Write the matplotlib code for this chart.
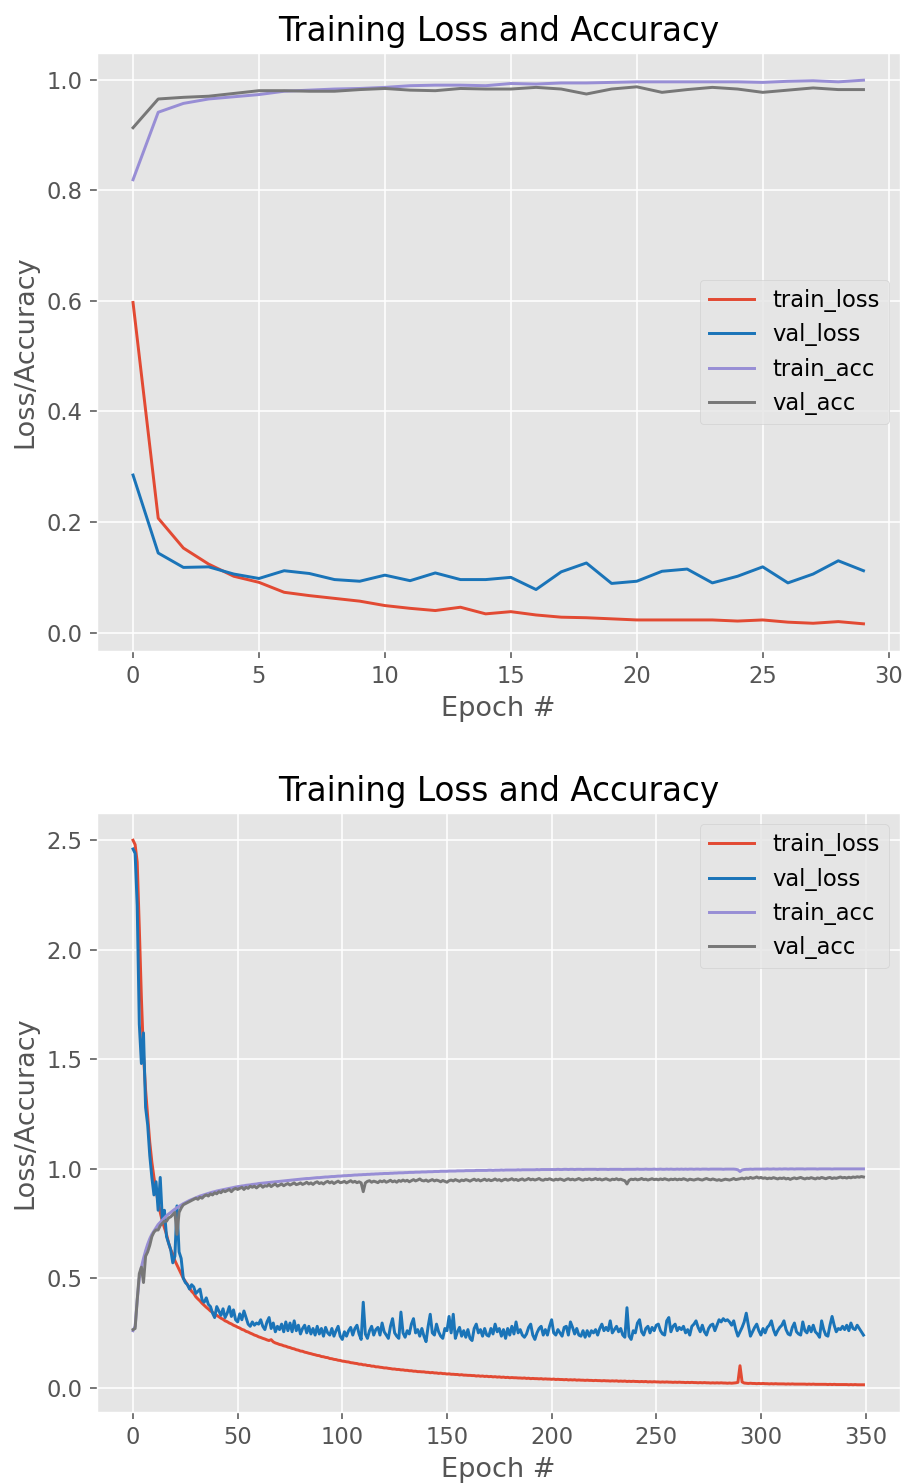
import numpy as np
import matplotlib
matplotlib.use("Agg")
import matplotlib.pyplot as plt

# ---------------- data: run 1 (30 epochs) ----------------
epochs1 = list(range(30))
train_loss1 = [0.597, 0.207, 0.153, 0.124, 0.102, 0.091, 0.073, 0.067, 0.062, 0.057,
               0.049, 0.044, 0.040, 0.046, 0.034, 0.038, 0.032, 0.028, 0.027, 0.025,
               0.023, 0.023, 0.023, 0.023, 0.021, 0.023, 0.019, 0.017, 0.020, 0.016]
val_loss1 = [0.285, 0.144, 0.118, 0.119, 0.106, 0.098, 0.112, 0.107, 0.096, 0.093,
             0.104, 0.094, 0.108, 0.096, 0.096, 0.100, 0.078, 0.110, 0.126, 0.089,
             0.093, 0.111, 0.115, 0.090, 0.102, 0.119, 0.090, 0.106, 0.130, 0.112]
train_acc1 = [0.819, 0.941, 0.957, 0.965, 0.969, 0.973, 0.979, 0.981, 0.983, 0.984,
              0.986, 0.989, 0.990, 0.990, 0.989, 0.993, 0.992, 0.994, 0.994, 0.995,
              0.996, 0.996, 0.996, 0.996, 0.996, 0.995, 0.997, 0.998, 0.996, 0.999]
val_acc1 = [0.913, 0.965, 0.968, 0.970, 0.975, 0.980, 0.980, 0.979, 0.979, 0.982,
            0.984, 0.981, 0.980, 0.984, 0.983, 0.983, 0.986, 0.983, 0.974, 0.983,
            0.987, 0.977, 0.982, 0.986, 0.983, 0.977, 0.981, 0.985, 0.982, 0.982]

# ---------------- data: run 2 (350 epochs) ----------------
epochs2 = list(range(350))
train_loss2 = [
    2.50, 2.48, 2.40, 2.10, 1.78, 1.52, 1.36, 1.24, 1.12, 1.03,
    0.96, 0.90, 0.85, 0.80, 0.76, 0.73, 0.70, 0.66, 0.63, 0.61,
    0.58, 0.56, 0.54, 0.52, 0.50, 0.485, 0.47, 0.455, 0.44, 0.43,
    0.415, 0.405, 0.396, 0.385, 0.376, 0.367, 0.359, 0.350, 0.344, 0.336,
    0.330, 0.324, 0.317, 0.312, 0.305, 0.301, 0.295, 0.291, 0.285, 0.281,
    0.276, 0.272, 0.266, 0.263, 0.257, 0.254, 0.249, 0.245, 0.240, 0.237,
    0.232, 0.229, 0.225, 0.222, 0.218, 0.215, 0.219, 0.209, 0.204, 0.201,
    0.197, 0.195, 0.191, 0.189, 0.185, 0.183, 0.179, 0.177, 0.173, 0.171,
    0.167, 0.166, 0.162, 0.160, 0.157, 0.155, 0.152, 0.150, 0.147, 0.146,
    0.142, 0.141, 0.138, 0.137, 0.133, 0.132, 0.129, 0.128, 0.125, 0.124,
    0.121, 0.120, 0.118, 0.117, 0.114, 0.113, 0.111, 0.110, 0.107, 0.107,
    0.104, 0.104, 0.101, 0.101, 0.098, 0.098, 0.095, 0.095, 0.093, 0.092,
    0.090, 0.090, 0.088, 0.087, 0.085, 0.085, 0.083, 0.083, 0.081, 0.081,
    0.079, 0.079, 0.077, 0.077, 0.075, 0.075, 0.073, 0.073, 0.072, 0.072,
    0.070, 0.070, 0.068, 0.069, 0.067, 0.067, 0.065, 0.066, 0.064, 0.064,
    0.062, 0.063, 0.061, 0.061, 0.060, 0.060, 0.058, 0.059, 0.057, 0.057,
    0.056, 0.056, 0.055, 0.055, 0.053, 0.054, 0.052, 0.053, 0.051, 0.052,
    0.050, 0.051, 0.049, 0.050, 0.048, 0.049, 0.047, 0.048, 0.046, 0.047,
    0.045, 0.046, 0.045, 0.045, 0.044, 0.044, 0.043, 0.044, 0.042, 0.043,
    0.041, 0.042, 0.041, 0.041, 0.040, 0.041, 0.039, 0.040, 0.039, 0.039,
    0.038, 0.039, 0.037, 0.038, 0.037, 0.037, 0.036, 0.037, 0.035, 0.036,
    0.035, 0.036, 0.034, 0.035, 0.034, 0.034, 0.033, 0.034, 0.033, 0.033,
    0.032, 0.033, 0.032, 0.032, 0.031, 0.032, 0.031, 0.031, 0.030, 0.031,
    0.030, 0.031, 0.029, 0.030, 0.029, 0.030, 0.028, 0.029, 0.028, 0.029,
    0.028, 0.028, 0.027, 0.028, 0.027, 0.028, 0.026, 0.027, 0.026, 0.027,
    0.026, 0.026, 0.025, 0.026, 0.025, 0.026, 0.025, 0.025, 0.024, 0.025,
    0.024, 0.025, 0.024, 0.024, 0.023, 0.024, 0.023, 0.024, 0.023, 0.023,
    0.022, 0.023, 0.022, 0.023, 0.022, 0.022, 0.021, 0.022, 0.021, 0.022,
    0.021, 0.022, 0.021, 0.021, 0.020, 0.021, 0.020, 0.021, 0.022, 0.024,
    0.100, 0.026, 0.021, 0.020, 0.019, 0.020, 0.019, 0.019, 0.018, 0.019,
    0.018, 0.019, 0.018, 0.018, 0.017, 0.018, 0.017, 0.018, 0.017, 0.017,
    0.017, 0.017, 0.016, 0.017, 0.016, 0.017, 0.016, 0.016, 0.016, 0.016,
    0.016, 0.016, 0.015, 0.016, 0.015, 0.016, 0.015, 0.015, 0.015, 0.015,
    0.015, 0.015, 0.014, 0.015, 0.014, 0.015, 0.014, 0.014, 0.014, 0.014,
    0.014, 0.014, 0.013, 0.014, 0.013, 0.014, 0.013, 0.013, 0.013, 0.013,
]
val_loss2 = [
    2.46, 2.44, 2.20, 1.66, 1.48, 1.62, 1.28, 1.20, 1.06, 0.96,
    0.88, 0.94, 0.81, 0.96, 0.77, 0.81, 0.69, 0.66, 0.63, 0.57,
    0.60, 0.83, 0.62, 0.59, 0.50, 0.48, 0.47, 0.45, 0.47, 0.46,
    0.43, 0.44, 0.45, 0.40, 0.39, 0.41, 0.38, 0.37, 0.34, 0.32,
    0.37, 0.35, 0.33, 0.36, 0.32, 0.34, 0.37, 0.325, 0.355, 0.31,
    0.30, 0.337, 0.31, 0.35, 0.32, 0.29, 0.28, 0.30, 0.285, 0.295,
    0.29, 0.31, 0.28, 0.265, 0.30, 0.32, 0.27, 0.295, 0.255, 0.28,
    0.265, 0.29, 0.255, 0.30, 0.26, 0.295, 0.255, 0.305, 0.26, 0.285,
    0.245, 0.27, 0.285, 0.25, 0.28, 0.245, 0.27, 0.24, 0.28, 0.245,
    0.27, 0.235, 0.275, 0.25, 0.24, 0.27, 0.235, 0.26, 0.28, 0.235,
    0.22, 0.255, 0.235, 0.26, 0.275, 0.24, 0.27, 0.285, 0.245, 0.22,
    0.39, 0.245, 0.225, 0.26, 0.28, 0.24, 0.265, 0.275, 0.24, 0.295,
    0.255, 0.24, 0.225, 0.28, 0.315, 0.25, 0.235, 0.225, 0.345, 0.25,
    0.23, 0.26, 0.245, 0.29, 0.315, 0.25, 0.265, 0.235, 0.27, 0.235,
    0.21, 0.28, 0.335, 0.25, 0.24, 0.29, 0.255, 0.235, 0.225, 0.27,
    0.26, 0.325, 0.25, 0.335, 0.225, 0.255, 0.275, 0.235, 0.26, 0.23,
    0.265, 0.225, 0.215, 0.27, 0.29, 0.25, 0.265, 0.235, 0.27, 0.24,
    0.235, 0.27, 0.245, 0.29, 0.255, 0.27, 0.235, 0.265, 0.225, 0.27,
    0.24, 0.28, 0.245, 0.30, 0.25, 0.265, 0.24, 0.23, 0.245, 0.275,
    0.29, 0.24, 0.22, 0.25, 0.27, 0.28, 0.24, 0.265, 0.24, 0.28,
    0.31, 0.25, 0.24, 0.265, 0.25, 0.235, 0.275, 0.28, 0.24, 0.30,
    0.275, 0.245, 0.27, 0.24, 0.235, 0.26, 0.23, 0.26, 0.235, 0.26,
    0.25, 0.265, 0.24, 0.27, 0.29, 0.26, 0.275, 0.26, 0.305, 0.25,
    0.265, 0.28, 0.255, 0.27, 0.24, 0.23, 0.365, 0.235, 0.22, 0.26,
    0.25, 0.295, 0.31, 0.255, 0.24, 0.27, 0.28, 0.25, 0.275, 0.26,
    0.285, 0.29, 0.26, 0.245, 0.24, 0.305, 0.32, 0.255, 0.28, 0.29,
    0.26, 0.275, 0.265, 0.28, 0.25, 0.265, 0.24, 0.28, 0.29, 0.305,
    0.275, 0.255, 0.285, 0.255, 0.24, 0.27, 0.285, 0.29, 0.26, 0.285,
    0.31, 0.30, 0.315, 0.305, 0.31, 0.30, 0.285, 0.305, 0.265, 0.235,
    0.255, 0.275, 0.30, 0.34, 0.285, 0.235, 0.255, 0.275, 0.29, 0.26,
    0.24, 0.27, 0.25, 0.275, 0.285, 0.305, 0.265, 0.24, 0.26, 0.275,
    0.285, 0.305, 0.265, 0.245, 0.24, 0.275, 0.295, 0.255, 0.245, 0.24,
    0.30, 0.26, 0.25, 0.28, 0.255, 0.285, 0.255, 0.245, 0.23, 0.305,
    0.265, 0.24, 0.235, 0.285, 0.325, 0.285, 0.255, 0.27, 0.265, 0.28,
    0.265, 0.285, 0.26, 0.295, 0.27, 0.265, 0.285, 0.27, 0.255, 0.24,
]
train_acc2 = [
    0.26, 0.28, 0.40, 0.50, 0.55, 0.59, 0.625, 0.655, 0.68, 0.70,
    0.715, 0.73, 0.745, 0.755, 0.765, 0.775, 0.785, 0.793, 0.80, 0.808,
    0.815, 0.822, 0.828, 0.834, 0.84, 0.845, 0.85, 0.855, 0.859, 0.863,
    0.867, 0.871, 0.875, 0.878, 0.881, 0.884, 0.887, 0.89, 0.893, 0.895,
    0.898, 0.90, 0.902, 0.904, 0.906, 0.908, 0.91, 0.912, 0.914, 0.916,
    0.918, 0.919, 0.921, 0.922, 0.924, 0.925, 0.926, 0.928, 0.929, 0.930,
    0.932, 0.933, 0.934, 0.935, 0.936, 0.937, 0.938, 0.939, 0.940, 0.941,
    0.942, 0.943, 0.944, 0.945, 0.946, 0.947, 0.948, 0.949, 0.950, 0.951,
    0.952, 0.953, 0.954, 0.955, 0.955, 0.956, 0.957, 0.958, 0.959, 0.959,
    0.960, 0.961, 0.962, 0.962, 0.963, 0.964, 0.964, 0.965, 0.966, 0.966,
    0.967, 0.968, 0.968, 0.969, 0.969, 0.970, 0.971, 0.971, 0.972, 0.972,
    0.973, 0.973, 0.974, 0.974, 0.975, 0.975, 0.976, 0.976, 0.977, 0.977,
    0.978, 0.978, 0.978, 0.979, 0.979, 0.980, 0.980, 0.981, 0.981, 0.981,
    0.982, 0.982, 0.983, 0.983, 0.983, 0.984, 0.984, 0.984, 0.985, 0.985,
    0.985, 0.986, 0.986, 0.986, 0.987, 0.987, 0.987, 0.988, 0.988, 0.988,
    0.988, 0.989, 0.989, 0.989, 0.989, 0.990, 0.990, 0.990, 0.990, 0.991,
    0.991, 0.991, 0.991, 0.991, 0.992, 0.992, 0.992, 0.992, 0.992, 0.992,
    0.993, 0.993, 0.992, 0.993, 0.993, 0.993, 0.994, 0.993, 0.994, 0.994,
    0.994, 0.994, 0.994, 0.994, 0.995, 0.994, 0.995, 0.995, 0.995, 0.995,
    0.995, 0.995, 0.995, 0.996, 0.995, 0.996, 0.996, 0.996, 0.996, 0.996,
    0.996, 0.996, 0.996, 0.997, 0.996, 0.996, 0.997, 0.997, 0.996, 0.997,
    0.997, 0.996, 0.997, 0.997, 0.997, 0.996, 0.997, 0.997, 0.997, 0.997,
    0.997, 0.997, 0.996, 0.997, 0.997, 0.997, 0.997, 0.996, 0.997, 0.997,
    0.997, 0.997, 0.997, 0.997, 0.996, 0.997, 0.997, 0.997, 0.997, 0.997,
    0.997, 0.998, 0.997, 0.997, 0.997, 0.998, 0.997, 0.997, 0.997, 0.998,
    0.997, 0.997, 0.998, 0.997, 0.997, 0.998, 0.997, 0.998, 0.997, 0.997,
    0.998, 0.997, 0.998, 0.997, 0.998, 0.997, 0.998, 0.998, 0.997, 0.998,
    0.998, 0.997, 0.998, 0.998, 0.998, 0.997, 0.998, 0.998, 0.998, 0.998,
    0.998, 0.998, 0.997, 0.998, 0.998, 0.998, 0.998, 0.998, 0.997, 0.995,
    0.987, 0.994, 0.996, 0.997, 0.997, 0.998, 0.997, 0.998, 0.998, 0.998,
    0.998, 0.998, 0.998, 0.999, 0.998, 0.998, 0.999, 0.998, 0.998, 0.999,
    0.998, 0.999, 0.999, 0.998, 0.999, 0.999, 0.998, 0.999, 0.999, 0.999,
    0.999, 0.998, 0.999, 0.999, 0.999, 0.999, 0.999, 0.998, 0.999, 0.999,
    0.999, 0.999, 0.999, 0.999, 0.998, 0.999, 0.999, 0.999, 0.999, 0.999,
    0.999, 0.999, 0.999, 0.999, 0.999, 0.999, 0.999, 0.999, 0.999, 0.999,
]
val_acc2 = [
    0.265, 0.27, 0.40, 0.52, 0.55, 0.48, 0.60, 0.62, 0.65, 0.69,
    0.71, 0.72, 0.72, 0.74, 0.75, 0.76, 0.76, 0.775, 0.78, 0.79,
    0.80, 0.70, 0.80, 0.82, 0.835, 0.84, 0.845, 0.85, 0.855, 0.86,
    0.865, 0.86, 0.87, 0.865, 0.875, 0.88, 0.875, 0.885, 0.88, 0.89,
    0.885, 0.895, 0.89, 0.90, 0.895, 0.90, 0.905, 0.895, 0.905, 0.91,
    0.905, 0.91, 0.915, 0.905, 0.915, 0.91, 0.92, 0.915, 0.92, 0.912,
    0.92, 0.925, 0.915, 0.922, 0.92, 0.928, 0.918, 0.925, 0.93, 0.92,
    0.925, 0.93, 0.922, 0.928, 0.932, 0.925, 0.93, 0.935, 0.927, 0.93,
    0.935, 0.928, 0.932, 0.938, 0.93, 0.935, 0.928, 0.936, 0.94, 0.932,
    0.936, 0.93, 0.938, 0.942, 0.935, 0.94, 0.932, 0.938, 0.943, 0.936,
    0.938, 0.942, 0.935, 0.94, 0.945, 0.938, 0.942, 0.936, 0.94, 0.935,
    0.895, 0.935, 0.942, 0.945, 0.938, 0.943, 0.94, 0.936, 0.944, 0.94,
    0.945, 0.938, 0.942, 0.947, 0.94, 0.944, 0.938, 0.946, 0.942, 0.948,
    0.943, 0.947, 0.94, 0.945, 0.95, 0.944, 0.948, 0.953, 0.946, 0.944,
    0.948, 0.942, 0.946, 0.95, 0.944, 0.948, 0.945, 0.94, 0.946, 0.942,
    0.938, 0.945, 0.948, 0.944, 0.95, 0.946, 0.942, 0.948, 0.945, 0.95,
    0.947, 0.943, 0.948, 0.952, 0.946, 0.95, 0.944, 0.948, 0.952, 0.946,
    0.95, 0.945, 0.948, 0.953, 0.947, 0.95, 0.944, 0.949, 0.952, 0.947,
    0.95, 0.954, 0.948, 0.951, 0.946, 0.95, 0.953, 0.947, 0.95, 0.955,
    0.949, 0.952, 0.948, 0.951, 0.955, 0.949, 0.947, 0.952, 0.95, 0.954,
    0.95, 0.947, 0.952, 0.949, 0.953, 0.95, 0.946, 0.951, 0.954, 0.949,
    0.952, 0.948, 0.951, 0.955, 0.95, 0.947, 0.952, 0.95, 0.954, 0.949,
    0.951, 0.955, 0.95, 0.953, 0.948, 0.951, 0.954, 0.95, 0.947, 0.952,
    0.95, 0.954, 0.949, 0.952, 0.948, 0.945, 0.93, 0.947, 0.952, 0.95,
    0.953, 0.949, 0.951, 0.955, 0.95, 0.952, 0.948, 0.951, 0.954, 0.95,
    0.952, 0.949, 0.953, 0.95, 0.954, 0.951, 0.948, 0.952, 0.95, 0.953,
    0.949, 0.952, 0.95, 0.954, 0.951, 0.947, 0.952, 0.95, 0.948, 0.951,
    0.953, 0.95, 0.948, 0.952, 0.955, 0.951, 0.949, 0.953, 0.95, 0.947,
    0.95, 0.946, 0.949, 0.952, 0.95, 0.948, 0.951, 0.955, 0.95, 0.952,
    0.954, 0.957, 0.953, 0.958, 0.955, 0.96, 0.956, 0.958, 0.962, 0.957,
    0.96, 0.956, 0.958, 0.954, 0.957, 0.955, 0.959, 0.956, 0.953, 0.957,
    0.955, 0.958, 0.953, 0.956, 0.951, 0.955, 0.958, 0.954, 0.957, 0.96,
    0.956, 0.953, 0.957, 0.955, 0.959, 0.956, 0.953, 0.958, 0.955, 0.96,
    0.957, 0.954, 0.958, 0.96, 0.955, 0.958, 0.956, 0.959, 0.962, 0.958,
    0.96, 0.957, 0.961, 0.958, 0.962, 0.96, 0.963, 0.961, 0.964, 0.962,
]

labels = ["train_loss", "val_loss", "train_acc", "val_acc"]
colors = ["#E24A33", "#1A74B8", "#988ED5", "#777777"]
title = "Training Loss and Accuracy"

plt.style.use("ggplot")
S = 1.416   # line scale
F = 1.63    # font scale
plt.rcParams.update({
    "font.family": ["DejaVu Sans"],
    "axes.titlesize": 14.4 * F,
    "axes.labelsize": 12 * F,
    "xtick.labelsize": 10 * F,
    "ytick.labelsize": 10 * F,
    "legend.fontsize": 10 * F,
    "lines.linewidth": 1.5 * S,
    "grid.linewidth": 0.8 * S,
    "xtick.major.size": 3.5 * S,
    "ytick.major.size": 3.5 * S,
    "xtick.major.width": 0.8 * S,
    "ytick.major.width": 0.8 * S,
    "xtick.major.pad": 3.5 * S,
    "ytick.major.pad": 3.5 * S,
    "axes.titlepad": 6 * S,
    "axes.labelpad": 4 * S,
})

fig = plt.figure(figsize=(9.06, 14.84), dpi=100)
W, H = 906.0, 1484.0
ax1 = fig.add_axes([96.5 / W, 1 - 651 / H, (900 - 96.5) / W, (651 - 53) / H])
ax2 = fig.add_axes([96.5 / W, 1 - 1412 / H, (900 - 96.5) / W, (1412 - 813) / H])

for ax, ep, series, loc in [
    (ax1, epochs1, [train_loss1, val_loss1, train_acc1, val_acc1], "center right"),
    (ax2, epochs2, [train_loss2, val_loss2, train_acc2, val_acc2], "upper right"),
]:
    for s, lab, c in zip(series, labels, colors):
        ax.plot(ep, s, label=lab, color=c)
    ax.set_title(title)
    ax.set_xlabel("Epoch #")
    ax.set_ylabel("Loss/Accuracy")
    ax.legend(loc=loc)

ax1.set_xticks([0, 5, 10, 15, 20, 25, 30])
ax2.set_xticks([0, 50, 100, 150, 200, 250, 300, 350])
ax1.set_yticks([0.0, 0.2, 0.4, 0.6, 0.8, 1.0])
ax2.set_yticks([0.0, 0.5, 1.0, 1.5, 2.0, 2.5])

fig.savefig("out.png", dpi=100)
